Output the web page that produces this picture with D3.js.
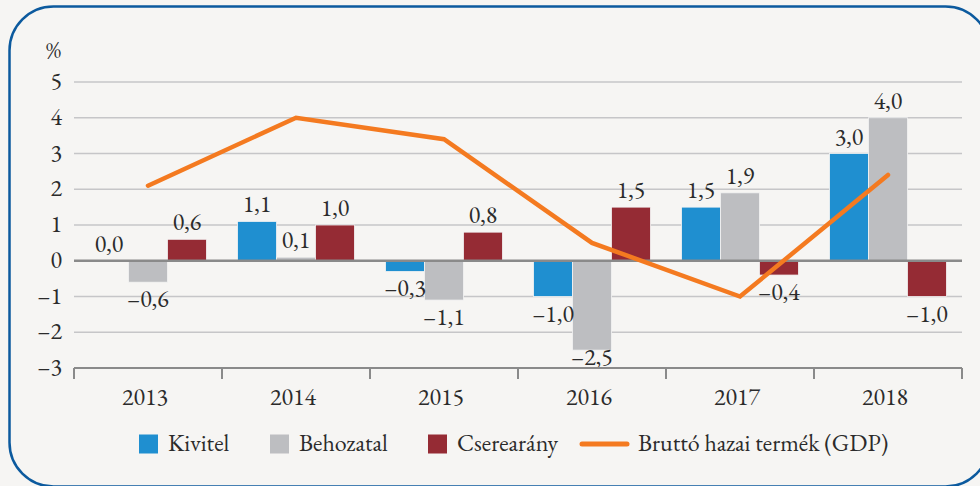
<!DOCTYPE html>
<html>
<head>
<meta charset="utf-8">
<script src="https://cdn.jsdelivr.net/npm/d3@7"></script>
<style>
  html, body { margin: 0; padding: 0; background: #f6f5f3; }
  svg { display: block; }
  svg text { font-family: 'EB Garamond', 'Liberation Serif', serif; }
</style>
</head>
<body>
<svg id="chart" width="980" height="486"></svg>
<script>
const years = ["2013", "2014", "2015", "2016", "2017", "2018"];
const kivitel = [0.0, 1.1, -0.3, -1.0, 1.5, 3.0];
const behozatal = [-0.6, 0.1, -1.1, -2.5, 1.9, 4.0];
const cserearany = [0.6, 1.0, 0.8, 1.5, -0.4, -1.0];
const gdp = [2.1, 4.0, 3.4, 0.5, -1.0, 2.4];
const yTicks = [-3, -2, -1, 0, 1, 2, 3, 4, 5];
const seriesNames = ["Kivitel", "Behozatal", "Cserearány", "Bruttó hazai termék (GDP)"];
const unitLabel = "%";

const colors = { kivitel: "#1f8fd0", behozatal: "#bdbec1", cserearany: "#952b34", gdp: "#f47a20" };

const svg = d3.select("#chart");
const W = 980, H = 486;
const FS = 24;
const TXT = "#2b2b2b";

svg.append("rect").attr("x", 0).attr("y", 0).attr("width", W).attr("height", H).attr("fill", "#f6f5f3");
svg.append("rect")
  .attr("x", 9.5).attr("y", 6.5).attr("width", 980).attr("height", 480)
  .attr("rx", 44).attr("ry", 44)
  .attr("fill", "none").attr("stroke", "#0c5a9e").attr("stroke-width", 2.5);

const plot = { left: 74, right: 962, top: 82, bottom: 368 };

const x = d3.scaleBand().domain(years).range([plot.left, plot.right]).paddingInner(0).paddingOuter(0);
const y = d3.scaleLinear().domain([-3, 5]).range([plot.bottom, plot.top]);
const inner = d3.scaleBand().domain(["kivitel", "behozatal", "cserearany"])
  .range([0, x.bandwidth()]).paddingInner(0).paddingOuter(0.4);

svg.append("g").selectAll("line").data(yTicks.filter(t => t !== -3 && t !== 0)).join("line")
  .attr("x1", plot.left).attr("x2", plot.right)
  .attr("y1", d => y(d)).attr("y2", d => y(d))
  .attr("stroke", "#c6c6c8").attr("stroke-width", 1.5);

svg.append("g").selectAll("text").data(yTicks).join("text")
  .attr("x", 62).attr("y", d => y(d)).attr("dy", "0.3em")
  .attr("text-anchor", "end").attr("font-size", FS).attr("fill", TXT)
  .text(d => d < 0 ? "–" + Math.abs(d) : String(d));

svg.append("text").attr("x", 61).attr("y", 58).attr("text-anchor", "end")
  .attr("font-size", 23).attr("fill", TXT).text(unitLabel);

const fmt = v => {
  const s = d3.format(".1f")(Math.abs(v)).replace(".", ",");
  return v < 0 ? "–" + s : s;
};
const seriesData = [
  { key: "kivitel", values: kivitel },
  { key: "behozatal", values: behozatal },
  { key: "cserearany", values: cserearany }
];
const barsG = svg.append("g");
const labelsG = svg.append("g");
seriesData.forEach(s => {
  const pts = s.values.map((v, i) => ({ year: years[i], v }));
  barsG.selectAll(null).data(pts).join("rect")
    .attr("x", d => x(d.year) + inner(s.key))
    .attr("width", inner.bandwidth())
    .attr("y", d => y(Math.max(0, d.v)))
    .attr("height", d => Math.abs(y(d.v) - y(0)))
    .attr("fill", colors[s.key])
    .attr("stroke", "#f3f3f3").attr("stroke-width", 0.8);
  labelsG.selectAll(null).data(pts).join("text")
    .attr("x", d => x(d.year) + inner(s.key) + inner.bandwidth() / 2)
    .attr("y", d => d.v >= 0 ? y(d.v) - 9 : Math.min(y(d.v) + 25, y(-3) - 3))
    .attr("text-anchor", "middle").attr("font-size", FS).attr("fill", TXT)
    .text(d => fmt(d.v));
});

svg.append("line").attr("x1", plot.left).attr("x2", plot.right)
  .attr("y1", y(0)).attr("y2", y(0)).attr("stroke", "#8a8a8a").attr("stroke-width", 2.5);

const xAxisG = svg.append("g");
xAxisG.append("line").attr("x1", plot.left).attr("x2", plot.right)
  .attr("y1", y(-3)).attr("y2", y(-3)).attr("stroke", "#8a8a8a").attr("stroke-width", 2);
const tickPos = years.map(yr => x(yr)).concat([x(years[years.length - 1]) + x.bandwidth()]);
xAxisG.selectAll("line.tick").data(tickPos).join("line").attr("class", "tick")
  .attr("x1", d => d).attr("x2", d => d)
  .attr("y1", y(-3)).attr("y2", y(-3) + 11)
  .attr("stroke", "#8a8a8a").attr("stroke-width", 2);
xAxisG.selectAll("text").data(years).join("text")
  .attr("x", d => x(d) + x.bandwidth() / 2 - 3).attr("y", 405)
  .attr("text-anchor", "middle").attr("font-size", FS).attr("fill", TXT)
  .text(d => d);

const line = d3.line().x((d, i) => x(years[i]) + x.bandwidth() / 2).y(d => y(d));
svg.append("path").datum(gdp).attr("d", line)
  .attr("fill", "none").attr("stroke", colors.gdp).attr("stroke-width", 4.5)
  .attr("stroke-linecap", "round").attr("stroke-linejoin", "miter");

const legY = 444;
const legItems = [
  { name: seriesNames[0], type: "rect", color: colors.kivitel, x: 139 },
  { name: seriesNames[1], type: "rect", color: colors.behozatal, x: 270 },
  { name: seriesNames[2], type: "rect", color: colors.cserearany, x: 428 },
  { name: seriesNames[3], type: "line", color: colors.gdp, x: 580 }
];
const leg = svg.append("g");
legItems.forEach(it => {
  if (it.type === "rect") {
    leg.append("rect").attr("x", it.x).attr("y", legY - 9.5).attr("width", 19).attr("height", 19).attr("fill", it.color);
    leg.append("text").attr("x", it.x + 29).attr("y", legY + 7).attr("font-size", FS).attr("fill", TXT).text(it.name);
  } else {
    leg.append("line").attr("x1", it.x + 2).attr("x2", it.x + 47).attr("y1", legY).attr("y2", legY)
      .attr("stroke", it.color).attr("stroke-width", 5).attr("stroke-linecap", "round");
    leg.append("text").attr("x", it.x + 58).attr("y", legY + 7).attr("font-size", FS).attr("fill", TXT).text(it.name);
  }
});
</script>
</body>
</html>
